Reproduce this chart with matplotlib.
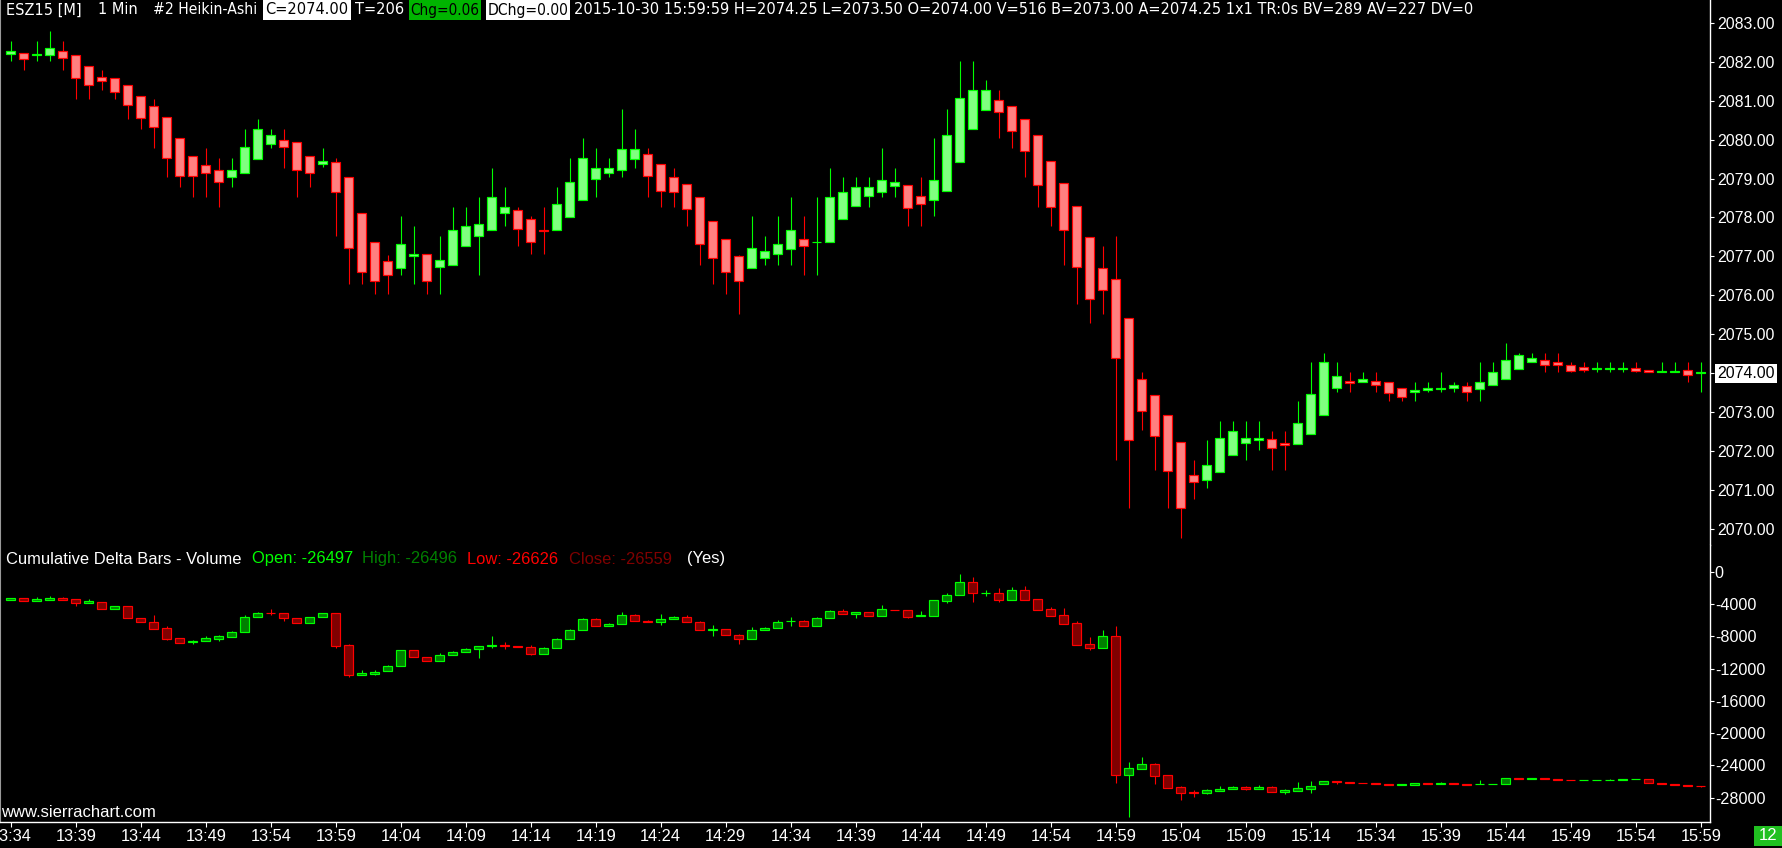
import matplotlib
matplotlib.use('Agg')
import matplotlib.pyplot as plt
from matplotlib import font_manager
from matplotlib.patches import Rectangle
from matplotlib.transforms import blended_transform_factory
import numpy as np

# ---------------- data ----------------
times = ['13:34', '13:39', '13:44', '13:49', '13:54', '13:59', '14:04', '14:09', '14:14',
         '14:19', '14:24', '14:29', '14:34', '14:39', '14:44', '14:49', '14:54', '14:59',
         '15:04', '15:09', '15:14', '15:34', '15:39', '15:44', '15:49', '15:54', '15:59']

price_open = [2082.21, 2082.23, 2082.16, 2082.18, 2082.27, 2082.16, 2081.88, 2081.61, 2081.58, 2081.39,
              2081.13, 2080.85, 2080.59, 2080.05, 2079.57, 2079.34, 2079.23, 2079.05, 2079.13, 2079.49,
              2079.88, 2080.00, 2079.93, 2079.57, 2079.37, 2079.42, 2079.03, 2078.11, 2077.36, 2076.87,
              2076.69, 2077.00, 2077.06, 2076.72, 2076.79, 2077.26, 2077.52, 2077.67, 2078.11, 2078.18,
              2077.95, 2077.67, 2077.67, 2078.00, 2078.45, 2078.98, 2079.14, 2079.21, 2079.49, 2079.62,
              2079.37, 2079.03, 2078.85, 2078.52, 2077.92, 2077.44, 2077.00, 2076.69, 2076.95, 2077.06,
              2077.18, 2077.44, 2077.36, 2077.38, 2077.95, 2078.29, 2078.54, 2078.65, 2078.80, 2078.84,
              2078.56, 2078.44, 2078.69, 2079.42, 2080.26, 2080.75, 2081.01, 2080.85, 2080.54, 2080.11,
              2079.46, 2078.88, 2078.29, 2077.49, 2076.69, 2076.41, 2075.41, 2073.85, 2073.43, 2072.92,
              2072.23, 2071.38, 2071.27, 2071.46, 2071.89, 2072.20, 2072.28, 2072.30, 2072.20, 2072.17,
              2072.43, 2072.94, 2073.62, 2073.80, 2073.77, 2073.79, 2073.77, 2073.63, 2073.51, 2073.57,
              2073.60, 2073.62, 2073.66, 2073.59, 2073.69, 2073.85, 2074.10, 2074.29, 2074.33, 2074.29,
              2074.22, 2074.15, 2074.11, 2074.11, 2074.12, 2074.14, 2074.08, 2074.04, 2074.04, 2074.08,
              2074.00]
price_close = [2082.27, 2082.08, 2082.21, 2082.35, 2082.09, 2081.57, 2081.39, 2081.51, 2081.21, 2080.90,
               2080.56, 2080.33, 2079.52, 2079.07, 2079.07, 2079.13, 2078.90, 2079.21, 2079.82, 2080.26,
               2080.13, 2079.82, 2079.21, 2079.14, 2079.46, 2078.65, 2077.21, 2076.59, 2076.38, 2076.52,
               2077.33, 2077.07, 2076.38, 2076.90, 2077.69, 2077.77, 2077.83, 2078.52, 2078.26, 2077.70,
               2077.38, 2077.66, 2078.34, 2078.91, 2079.52, 2079.26, 2079.26, 2079.77, 2079.77, 2079.07,
               2078.68, 2078.65, 2078.21, 2077.33, 2076.95, 2076.59, 2076.38, 2077.21, 2077.15, 2077.33,
               2077.69, 2077.26, 2077.38, 2078.52, 2078.65, 2078.77, 2078.77, 2078.95, 2078.90, 2078.25,
               2078.34, 2078.95, 2080.13, 2081.08, 2081.27, 2081.27, 2080.70, 2080.21, 2079.70, 2078.83,
               2078.26, 2077.69, 2076.72, 2075.90, 2076.15, 2074.39, 2072.28, 2073.02, 2072.40, 2071.50,
               2070.53, 2071.20, 2071.64, 2072.33, 2072.51, 2072.33, 2072.33, 2072.07, 2072.15, 2072.71,
               2073.46, 2074.28, 2073.94, 2073.76, 2073.85, 2073.71, 2073.50, 2073.40, 2073.58, 2073.63,
               2073.63, 2073.71, 2073.51, 2073.77, 2074.02, 2074.33, 2074.46, 2074.39, 2074.20, 2074.20,
               2074.07, 2074.08, 2074.13, 2074.13, 2074.14, 2074.07, 2074.03, 2074.06, 2074.06, 2073.95,
               2074.02]
price_high = [2082.52, 2082.23, 2082.52, 2082.79, 2082.52, 2082.16, 2081.88, 2081.78, 2081.58, 2081.39,
              2081.13, 2081.05, 2080.59, 2080.05, 2079.57, 2079.78, 2079.52, 2079.52, 2080.27, 2080.53,
              2080.27, 2080.27, 2079.93, 2079.57, 2079.78, 2079.52, 2079.03, 2078.11, 2077.36, 2077.03,
              2078.03, 2077.78, 2077.06, 2077.53, 2078.27, 2078.27, 2078.52, 2079.27, 2078.77, 2078.27,
              2078.03, 2078.27, 2078.77, 2079.52, 2080.04, 2079.78, 2079.52, 2080.79, 2080.26, 2079.78,
              2079.37, 2079.27, 2078.85, 2078.52, 2077.92, 2077.44, 2077.03, 2078.03, 2077.53, 2078.03,
              2078.52, 2078.03, 2078.52, 2079.27, 2079.04, 2079.04, 2079.04, 2079.78, 2079.27, 2078.84,
              2079.04, 2080.04, 2080.79, 2082.02, 2082.02, 2081.53, 2081.28, 2080.85, 2080.54, 2080.11,
              2079.46, 2078.88, 2078.29, 2077.49, 2077.27, 2077.53, 2075.41, 2074.03, 2073.43, 2072.92,
              2072.23, 2071.77, 2072.28, 2072.78, 2072.78, 2072.78, 2072.78, 2072.52, 2072.52, 2073.29,
              2074.29, 2074.52, 2074.29, 2074.03, 2074.03, 2074.03, 2073.77, 2073.63, 2073.78, 2073.78,
              2074.03, 2073.78, 2073.78, 2074.29, 2074.29, 2074.78, 2074.52, 2074.52, 2074.52, 2074.52,
              2074.29, 2074.29, 2074.29, 2074.29, 2074.29, 2074.29, 2074.08, 2074.29, 2074.29, 2074.29,
              2074.29]
price_low = [2082.03, 2081.79, 2082.03, 2082.03, 2081.79, 2081.05, 2081.05, 2081.28, 2081.05, 2080.53,
             2080.28, 2079.79, 2079.05, 2078.78, 2078.53, 2078.53, 2078.27, 2078.78, 2079.13, 2079.49,
             2079.79, 2079.28, 2078.53, 2078.78, 2079.29, 2077.53, 2076.29, 2076.29, 2076.04, 2076.04,
             2076.53, 2076.29, 2076.04, 2076.04, 2076.79, 2077.26, 2076.53, 2077.67, 2077.79, 2077.28,
             2077.05, 2077.05, 2077.67, 2078.00, 2078.45, 2078.53, 2079.05, 2079.05, 2079.28, 2078.53,
             2078.27, 2078.27, 2077.79, 2076.79, 2076.29, 2076.04, 2075.53, 2076.69, 2076.79, 2076.79,
             2076.79, 2076.53, 2076.53, 2077.38, 2077.95, 2078.29, 2078.27, 2078.53, 2078.53, 2077.79,
             2077.79, 2078.05, 2078.69, 2079.42, 2080.26, 2080.75, 2080.04, 2079.79, 2079.04, 2078.27,
             2077.79, 2076.79, 2075.77, 2075.29, 2075.53, 2071.78, 2070.55, 2072.53, 2071.52, 2070.55,
             2069.78, 2070.78, 2071.04, 2071.46, 2071.89, 2071.78, 2072.03, 2071.52, 2071.52, 2072.17,
             2072.43, 2072.94, 2073.52, 2073.52, 2073.77, 2073.52, 2073.29, 2073.29, 2073.29, 2073.52,
             2073.52, 2073.52, 2073.29, 2073.29, 2073.69, 2073.85, 2074.10, 2074.29, 2074.03, 2074.03,
             2074.03, 2074.03, 2074.03, 2074.03, 2074.03, 2074.03, 2074.03, 2074.03, 2074.03, 2073.78,
             2073.52]

delta_open = [-3552, -3304, -3676, -3469, -3263, -3428, -3924, -3800, -4584, -4295,
              -5699, -6278, -7021, -8260, -8756, -8632, -8301, -8054, -7517, -5658,
              -5080, -5163, -5699, -6402, -5658, -5163, -9127, -12844, -12680, -12349,
              -11729, -9747, -10614, -11110, -10366, -9995, -9623, -9169, -9127, -9251,
              -9375, -10242, -9499, -8343, -7228, -5906, -6773, -6525, -5410, -6112,
              -6278, -5906, -5617, -6278, -7186, -7145, -7888, -8384, -7269, -7021,
              -6154, -6154, -6773, -5782, -4873, -5245, -5039, -5452, -4710, -4791,
              -5534, -5452, -3593, -2932, -1322, -2685, -2685, -3469, -2313, -3428,
              -4667, -5410, -6402, -9003, -9416, -8012, -25152, -24408, -23871, -25234,
              -26721, -27340, -27382, -27134, -26969, -26721, -26886, -26721, -27258, -27134,
              -26886, -26267, -25978, -26020, -26144, -26184, -26267, -26391, -26391, -26226,
              -26267, -26226, -26267, -26300, -26280, -26267, -25606, -25650, -25606, -25730,
              -25771, -25854, -25840, -25800, -25854, -25730, -25689, -26144, -26350, -26473,
              -26497]
delta_close = [-3304, -3676, -3428, -3263, -3469, -3924, -3676, -4584, -4295, -5699,
               -6278, -7062, -8301, -8797, -8590, -8260, -8012, -7517, -5658, -5121,
               -5121, -5699, -6402, -5658, -5163, -9169, -12844, -12597, -12390, -11729,
               -9747, -10614, -11110, -10366, -9995, -9582, -9210, -9140, -9170, -9375,
               -10242, -9499, -8343, -7228, -5906, -6773, -6525, -5410, -6154, -6278,
               -5865, -5617, -6278, -7269, -7150, -7888, -8384, -7269, -7021, -6278,
               -6130, -6773, -5782, -4873, -5286, -4997, -5452, -4667, -4790, -5576,
               -5369, -3552, -2932, -1322, -2685, -2643, -3469, -2313, -3469, -4708,
               -5452, -6443, -9045, -9416, -8012, -25152, -24367, -23871, -25276, -26762,
               -27382, -27382, -27093, -26928, -26721, -26886, -26680, -27258, -27051, -26845,
               -26515, -25978, -26020, -26144, -26184, -26267, -26391, -26350, -26226, -26250,
               -26226, -26267, -26391, -26267, -26250, -25606, -25650, -25606, -25730, -25771,
               -25854, -25820, -25810, -25780, -25730, -25700, -26144, -26350, -26473, -26515,
               -26559]
delta_high = [-3304, -3304, -3180, -3015, -3180, -3428, -3428, -3800, -4295, -4295,
              -5699, -5369, -6773, -8260, -8425, -7930, -7889, -7393, -5410, -4997,
              -4667, -5163, -5699, -5658, -5163, -5163, -9003, -12225, -12225, -11605,
              -9747, -9747, -10614, -10119, -9830, -9416, -9210, -8012, -8756, -9251,
              -9127, -9293, -8260, -7104, -5782, -5782, -6402, -5039, -5245, -5988,
              -5245, -5534, -5410, -6154, -6649, -7145, -7723, -6897, -6897, -6030,
              -5658, -6030, -5658, -4750, -4667, -4997, -5039, -4130, -4710, -4791,
              -4873, -3552, -2685, -289, -702, -2272, -2065, -1900, -1776, -3428,
              -4419, -4543, -6112, -8136, -7228, -6732, -23582, -22963, -23706, -25234,
              -26514, -27051, -26969, -26597, -26597, -26597, -26473, -26597, -26969, -26102,
              -25978, -25978, -25978, -26020, -26144, -26184, -26267, -26350, -26226, -26226,
              -26060, -26226, -26267, -25771, -26250, -25606, -25606, -25606, -25606, -25730,
              -25771, -25820, -25810, -25650, -25730, -25700, -25689, -26144, -26350, -26473,
              -26496]
delta_low = [-3552, -3676, -3676, -3469, -3469, -4213, -3924, -4584, -4584, -5699,
             -6278, -7062, -8425, -8797, -8921, -8632, -8632, -8054, -7517, -5658,
             -5410, -6071, -6402, -6402, -5658, -9416, -13051, -12844, -12762, -12349,
             -11729, -10614, -11110, -11110, -10366, -9995, -10655, -9416, -9540, -9375,
             -10366, -10242, -9499, -8343, -7228, -6773, -6773, -6525, -6154, -6278,
             -6567, -5906, -6278, -7269, -7930, -7888, -8921, -8384, -7269, -7021,
             -6691, -6773, -6773, -5782, -5286, -5699, -5493, -5452, -4790, -5699,
             -5534, -5452, -3841, -2932, -3717, -2974, -3717, -3469, -3469, -4708,
             -5452, -6443, -9045, -9664, -9416, -26184, -30397, -24408, -26267, -26762,
             -28249, -27877, -27506, -27134, -26969, -27051, -26886, -27258, -27506, -27134,
             -27382, -26267, -26267, -26144, -26184, -26267, -26391, -26391, -26391, -26250,
             -26267, -26267, -26391, -26300, -26280, -26267, -25650, -25650, -25730, -25771,
             -25854, -25854, -25840, -25800, -25854, -25730, -26144, -26350, -26473, -26515,
             -26626]

price_ticks = list(range(2070, 2084))
delta_ticks = list(range(0, -28001, -4000))
last_price = 2074.00

header_white_1 = "ESZ15 [M]"
header_white_2 = "1 Min"
header_white_3 = "#2 Heikin-Ashi"
header_box_c = "C=2074.00"
header_t = "T=206"
header_box_chg = "Chg=0.06"
header_box_dchg = "DChg=0.00"
header_rest = ("2015-10-30 15:59:59 H=2074.25 L=2073.50 O=2074.00 V=516 B=2073.00 "
               "A=2074.25 1x1 TR:0s BV=289 AV=227 DV=0")
study_title = "Cumulative Delta Bars - Volume"
study_vals = [("Open: -26497", '#00ff00'), ("High: -26496", '#008000'),
              ("Low: -26626", '#ff0000'), ("Close: -26559", '#800000'), ("(Yes)", '#ffffff')]

# ---------------- figure ----------------
W, H, DPI = 1783, 848, 100
fonts = font_manager.fontManager.ttflist
names = {f.name for f in fonts}
base_font = 'Liberation Sans' if 'Liberation Sans' in names else 'DejaVu Sans'
head_stretch = 'normal'
if 'Liberation Sans Narrow' in names:
    head_font = 'Liberation Sans Narrow'
elif any(f.name == 'DejaVu Sans' and str(f.stretch) in ('condensed', 'semi-condensed')
         for f in fonts):
    head_font = 'DejaVu Sans'
    head_stretch = 'condensed'
else:
    head_font = base_font
plt.rcParams['font.family'] = [base_font, 'DejaVu Sans']

fig = plt.figure(figsize=(W / DPI, H / DPI), dpi=DPI, facecolor='black')


def fy(py):
    return 1 - py / H


AX_R = 1710
ax_p = fig.add_axes([0, fy(545), AX_R / W, 1 - fy(545)], facecolor='black')
ax_d = fig.add_axes([0, fy(822.3), AX_R / W, fy(545) - fy(822.3)], facecolor='black')

n = len(price_open)
xlim = (-10.7 / 13, (AX_R - 10.7) / 13)


def candles(ax, o, h, l, c, up_fill, up_edge, dn_fill, dn_edge, width=0.68):
    o, h, l, c = map(np.asarray, (o, h, l, c))
    x = np.arange(len(o))
    up = c >= o
    edges = [up_edge if u else dn_edge for u in up]
    fills = [up_fill if u else dn_fill for u in up]
    ax.vlines(x, l, h, colors=edges, linewidth=0.8, zorder=2)
    ax.bar(x, c - o, bottom=o, width=width, color=fills, edgecolor=edges,
           linewidth=0.85, zorder=3)


candles(ax_p, price_open, price_high, price_low, price_close,
        '#80ff80', '#00ff00', '#ff8080', '#ff0000')
candles(ax_d, delta_open, delta_high, delta_low, delta_close,
        '#008000', '#00ff00', '#800000', '#ff0000')

ax_p.set_xlim(*xlim)
ax_d.set_xlim(*xlim)
ax_p.set_ylim(2070 - 16 / 38.94, 2083 + 22.75 / 38.94)
ax_d.set_ylim(-(822.3 - 571.7) / 0.0080725, (571.7 - 545) / 0.0080725)

for ax in (ax_p, ax_d):
    ax.spines['top'].set_visible(False)
    ax.spines['right'].set_color('white')
    ax.spines['right'].set_linewidth(1.0)
    ax.spines['left'].set_color('#9a9a9a')
    ax.spines['left'].set_linewidth(0.8)
    ax.yaxis.tick_right()
ax_p.spines['bottom'].set_visible(False)
ax_d.spines['bottom'].set_color('white')
ax_d.spines['bottom'].set_linewidth(1.0)

# price axis
ax_p.set_xticks([])
ax_p.set_yticks(price_ticks)
ax_p.set_yticklabels(['' if v == last_price else f'{v:.2f}' for v in price_ticks])
ax_p.tick_params(axis='y', direction='out', length=3, width=0.8, colors='white',
                 labelsize=11.4, pad=2)
tr = blended_transform_factory(fig.transFigure, ax_p.transData)
ax_p.text(1717 / W, last_price, f'{last_price:.2f}', transform=tr, ha='left', va='center',
          fontsize=11.4, color='black',
          bbox=dict(facecolor='white', edgecolor='none', pad=1.6), clip_on=False)

# delta axis
ax_d.set_yticks(delta_ticks)
ax_d.set_yticklabels([str(v) for v in delta_ticks])
ax_d.tick_params(axis='y', direction='out', length=3, width=0.8, colors='white',
                 labelsize=11.6, pad=0.5)
ax_d.set_xticks(range(0, n, 5))
ax_d.set_xticklabels(times)
ax_d.tick_params(axis='x', direction='out', length=3.5, width=0.8, colors='white',
                 labelsize=11.8, pad=1.5)

# ---------------- header ----------------
renderer = fig.canvas.get_renderer()
hfam = [head_font, 'DejaVu Sans']


def fit_size(txt, span, ref=12.0):
    probe = fig.text(0, 0, txt, fontsize=ref, family=hfam, fontstretch=head_stretch)
    w = probe.get_window_extent(renderer).width
    probe.remove()
    return ref * span / w


hsize = fit_size(header_rest, 1472 - 574)
hy = fy(10)


def htext(x, txt, span, color='white', ha='left', z=3):
    s = min(hsize, fit_size(txt, span))
    fig.text(x / W, hy, txt, color=color, ha=ha, va='center', fontsize=s,
             family=hfam, fontstretch=head_stretch, zorder=z)


htext(6, header_white_1, 84)
htext(98, header_white_2, 46)
htext(153, header_white_3, 104)
htext(355, header_t, 50)
htext(574, header_rest, 898)
for (x0, x1), txt, bg in [((263, 351), header_box_c, 'white'),
                          ((409, 481), header_box_chg, '#00b400'),
                          ((486, 570), header_box_dchg, 'white')]:
    fig.patches.append(Rectangle((x0 / W, fy(20)), (x1 - x0) / W, 20 / H,
                                 transform=fig.transFigure, facecolor=bg,
                                 edgecolor='none', zorder=5))
    htext((x0 + x1) / 2, txt, x1 - x0 - 3, color='black', ha='center', z=6)

# study header
sy = fy(559)
fig.text(6 / W, sy, study_title, color='white', fontsize=11.9, ha='left', va='center')
for (txt, col), x in zip(study_vals, [252, 362, 467, 569, 687]):
    fig.text(x / W, sy, txt, color=col, fontsize=11.9, ha='left', va='center')

# watermark
fig.text(1 / W, fy(812.7), 'www.sierrachart.com', color='white', fontsize=12,
         ha='left', va='center')

# bottom-right box
fig.patches.append(Rectangle((1754 / W, fy(846)), 28 / W, 20 / H, transform=fig.transFigure,
                             facecolor='#20c020', edgecolor='none'))
fig.text(1768 / W, fy(836), '12', color='white', fontsize=12, ha='center', va='center')

fig.savefig('out.png', dpi=DPI, facecolor='black')
